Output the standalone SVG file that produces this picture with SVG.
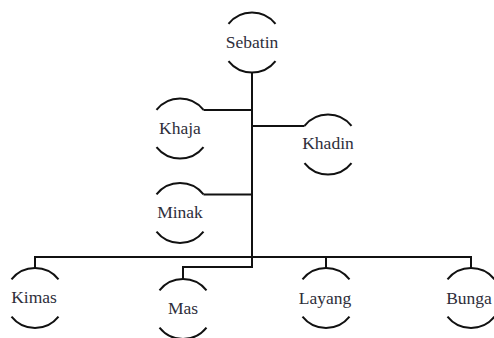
<svg xmlns="http://www.w3.org/2000/svg" xmlns:xlink="http://www.w3.org/1999/xlink" width="494" height="338" viewBox="0 0 494 338">
<style>
.arc{fill:none;stroke:#111;stroke-width:2}
.ln{fill:none;stroke:#111;stroke-width:2}
text{font-family:"Liberation Serif","Times New Roman",serif;font-size:17.5px;fill:#2e2e3a;text-anchor:middle}
</style>
<defs>
<path id="arcs" class="arc" d="M-23.5,-18.6 A30,30 0 0 1 23.5,-18.6 M-23.5,18.6 A30,30 0 0 0 23.5,18.6"/>
</defs>
<rect width="494" height="338" fill="#fff"/>
<g id="connectors">
<path class="ln" d="M252,72.5 V267 H183 V279"/>
<path class="ln" d="M203.5,110 H252"/>
<path class="ln" d="M252,126 H304.5"/>
<path class="ln" d="M203.5,194.4 H252"/>
<path class="ln" d="M35,268 V257 H471 V268"/>
<path class="ln" d="M326,257 V268"/>
</g>
<g id="sebatin"><use xlink:href="#arcs" transform="translate(252,42.5)"/><text x="252" y="47.5">Sebatin</text></g>
<g id="khaja"><use xlink:href="#arcs" transform="translate(180,128.5)"/><text x="180" y="133.5">Khaja</text></g>
<g id="khadin"><use xlink:href="#arcs" transform="translate(328,144.5)"/><text x="328" y="149">Khadin</text></g>
<g id="minak"><use xlink:href="#arcs" transform="translate(180,213)"/><text x="180" y="218">Minak</text></g>
<g id="kimas"><use xlink:href="#arcs" transform="translate(35,298)"/><text x="34" y="303">Kimas</text></g>
<g id="mas"><use xlink:href="#arcs" transform="translate(183,309)"/><text x="183" y="314">Mas</text></g>
<g id="layang"><use xlink:href="#arcs" transform="translate(326,298)"/><text x="325" y="304">Layang</text></g>
<g id="bunga"><use xlink:href="#arcs" transform="translate(471,298)"/><text x="469" y="304">Bunga</text></g>
</svg>
